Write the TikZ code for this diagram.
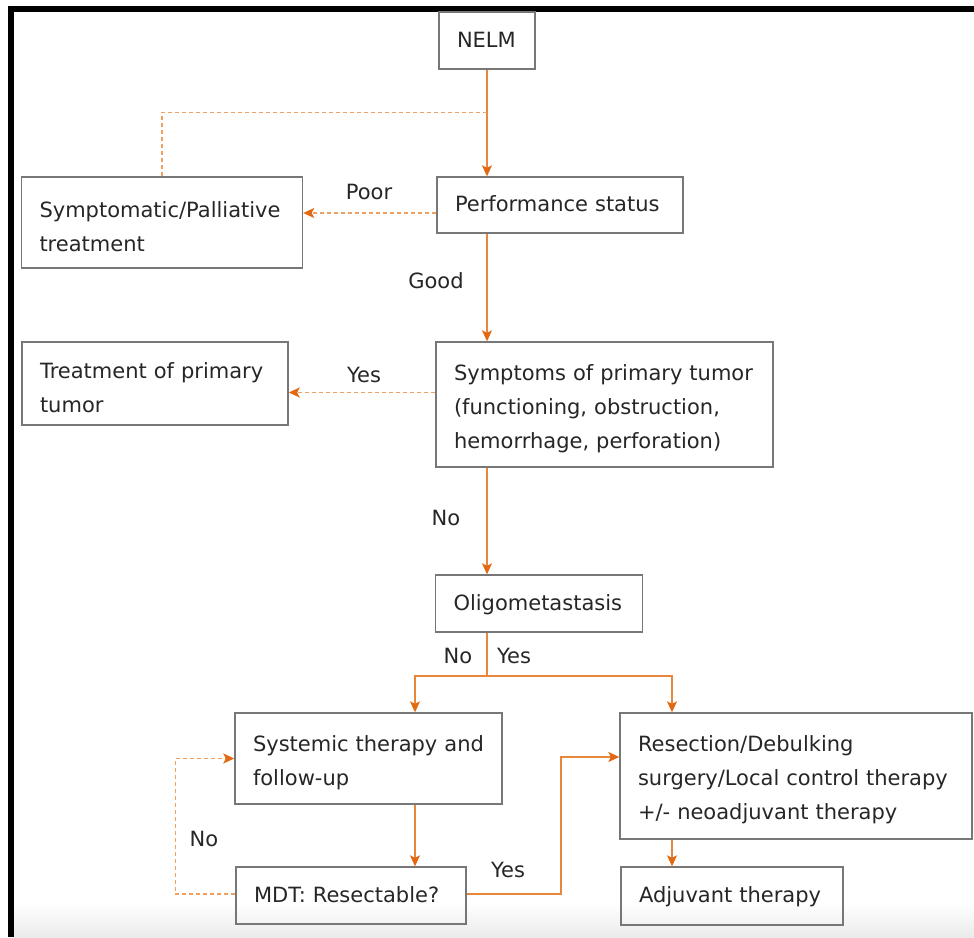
\documentclass[tikz,border=0pt]{standalone}
\usepackage{fontspec}
\setmainfont{DejaVu Sans}
\usepackage{tikz}
\usetikzlibrary{arrows.meta,positioning,calc}
\definecolor{boxgray}{HTML}{777777}
\definecolor{flow}{HTML}{E8873C}
\definecolor{tip}{HTML}{E26812}
\definecolor{faint}{HTML}{EFA060}
\definecolor{ink}{HTML}{262626}
\tikzset{
  blk/.style={draw=boxgray, line width=1.4pt, align=left, inner xsep=18pt, inner ysep=0pt, text=ink, font=\fontsize{21}{34}\selectfont, execute at begin node=\strut},
  ar/.style={-{Stealth[length=11pt,width=10pt,inset=2.5pt,color=tip]}, line width=1.3pt, draw=flow},
  ln/.style={line width=1.3pt, draw=flow},
  dln/.style={draw=faint, line width=1.4pt, dash pattern=on 4pt off 3pt},
  dar/.style={ar, dln},
  lbl/.style={font=\fontsize{21}{34}\selectfont, text=ink, inner sep=0pt},
}

\begin{document}
\begin{tikzpicture}[x=1pt,y=-1pt]
    \useasboundingbox (0,0) rectangle (974,937);
    % frame and bottom band
    \shade[top color=white, bottom color=black!8] (14,903) rectangle (974,937);
    \fill[black] (8,6) rectangle (14,937);
    \fill[black] (8,6) rectangle (974,12);

    \node[blk, text width=60pt, minimum height=57pt] (nelm) at (487,40.5) {NELM};
    \node[blk, text width=210pt, minimum height=56pt] (perf) at (560,205) {Performance status};
    \node[blk, text width=245pt, minimum height=91pt] (pall) at (162,222.5) {Symptomatic/Palliative\\treatment};
    \node[blk, text width=230pt, minimum height=83pt] (treat) at (155,383.5) {Treatment of primary\\tumor};
    \node[blk, text width=301pt, minimum height=125pt] (symp) at (604.5,404.5) {Symptoms of primary tumor\\(functioning, obstruction,\\hemorrhage, perforation)};
    \node[blk, text width=171pt, minimum height=57pt] (oligo) at (539,603.5) {Oligometastasis};
    \node[blk, text width=231pt, minimum height=91pt] (sys) at (368.5,758.5) {Systemic therapy and\\follow-up};
    \node[blk, text width=316pt, minimum height=126pt] (resec) at (796,776) {Resection/Debulking\\surgery/Local control therapy\\+/- neoadjuvant therapy};
    \node[blk, text width=194pt, minimum height=57pt] (mdt) at (351,895.5) {MDT: Resectable?};
    \node[blk, text width=186pt, minimum height=58pt] (adj) at (732,896) {Adjuvant therapy};

    % main line
    \draw[ar] (nelm.south) -- (perf.north -| nelm.south);
    \coordinate (fork) at ($(nelm.south)!.4!(perf.north -| nelm.south)$);
    \draw[dln] (fork) -| (pall.north);
    \draw[dar] ([yshift=-8pt]perf.west) -- ([yshift=-8pt]perf.west -| pall.east);
    \draw[ar] (perf.south -| nelm.south) -- (symp.north -| nelm.south);
    \draw[dar] ([yshift=12pt]symp.west) -- ([yshift=12pt]symp.west -| treat.east);
    \draw[ar] (symp.south -| nelm.south) -- (oligo.north -| nelm.south);

    % branches under oligometastasis
    \coordinate (split) at (487,676);
    \coordinate (lft) at (415,676);
    \coordinate (rgt) at (672,676);
    \draw[ln] (oligo.south -| split) -- (split);
    \draw[ar] (split) -| (lft |- sys.north);
    \draw[ar] (split) -| (rgt |- resec.north);
    \draw[ar] (lft |- sys.south) -- (lft |- mdt.north);
    \draw[ar] (rgt |- resec.south) -- (rgt |- adj.north);
    \draw[dar] ([yshift=1.5pt]mdt.west) -| ([xshift=-59pt]sys.west) -- (sys.west);
    \coordinate (up) at (561,757);
    \draw[ar] ([yshift=1.5pt]mdt.east) -| (up) -- (up -| resec.west);

    \node[lbl] (poor) at (369,192) {Poor};
    \node[lbl] (good) at (436,281) {Good};
    \node[lbl] (yes1) at (364,375) {Yes};
    \node[lbl] (no1) at (446,518) {No};
    \node[lbl] (no2) at (458,656) {No};
    \node[lbl] (yes2) at (514,656) {Yes};
    \node[lbl] (no3) at (204,839) {No};
    \node[lbl] (yes3) at (508,870) {Yes};
\end{tikzpicture}
\end{document}
